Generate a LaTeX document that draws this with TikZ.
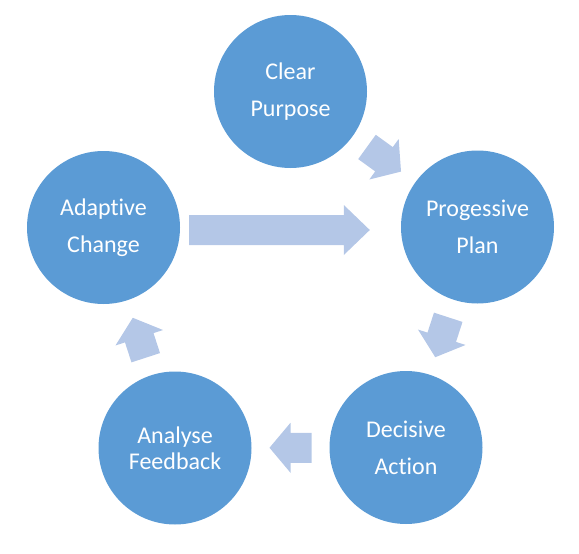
\documentclass[tikz,border=0pt]{standalone}
\usepackage{fontspec}
\setmainfont{Carlito}[Ligatures=NoCommon]
\usepackage{tikz}
\usetikzlibrary{calc, positioning}
\definecolor{stageblue}{HTML}{5B9BD5}
\definecolor{flowblue}{HTML}{B4C7E7}

\begin{document}
\begin{tikzpicture}[x=1pt, y=-1pt,
    stage/.style={circle, fill=stageblue, minimum size=153pt, inner sep=0pt,
      text=white, align=center, font=\fontsize{24}{37}\selectfont},
    flow/.style={fill=flowblue}]
  \useasboundingbox (0,0) rectangle (579,554);

  % Stages
  \node[stage] (purpose)  at (290.5,91.5) {Clear\\Purpose};
  \node[stage] (plan)     at (477.5,227)  {Progessive\\Plan};
  \node[stage] (action)   at (406,447.5)  {Decisive\\Action};
  \node[stage, font=\fontsize{24}{26}\selectfont] (feedback) at (175,448) {Analyse\\Feedback};
  \node[stage] (change)   at (103.5,227.5) {Adaptive\\Change};

  % Small block arrows between stages
  \foreach \from/\to/\ang in {purpose/plan/-35.9, plan/action/-108, action/feedback/180, feedback/change/108} {
    \fill[flow, shift={($(\from)!0.5!(\to)$)}, rotate=\ang]
      (-21,-15) -- (0,-15) -- (0,-25) -- (21,0) -- (0,25) -- (0,15) -- (-21,15) -- cycle;
  }

  % Long arrow from change to plan
  \coordinate (bigtail) at ($(change.east)+(9,2.5)$);
  \coordinate (bigtip)  at ($(plan.west)+(-31,3)$);
  \fill[flow] ($(bigtail)+(0,-15)$) -- ($(bigtip)+(-26,-15)$) -- ($(bigtip)+(-26,-25)$)
    -- (bigtip) -- ($(bigtip)+(-26,25)$) -- ($(bigtip)+(-26,15)$) -- ($(bigtail)+(0,15)$) -- cycle;
\end{tikzpicture}
\end{document}
